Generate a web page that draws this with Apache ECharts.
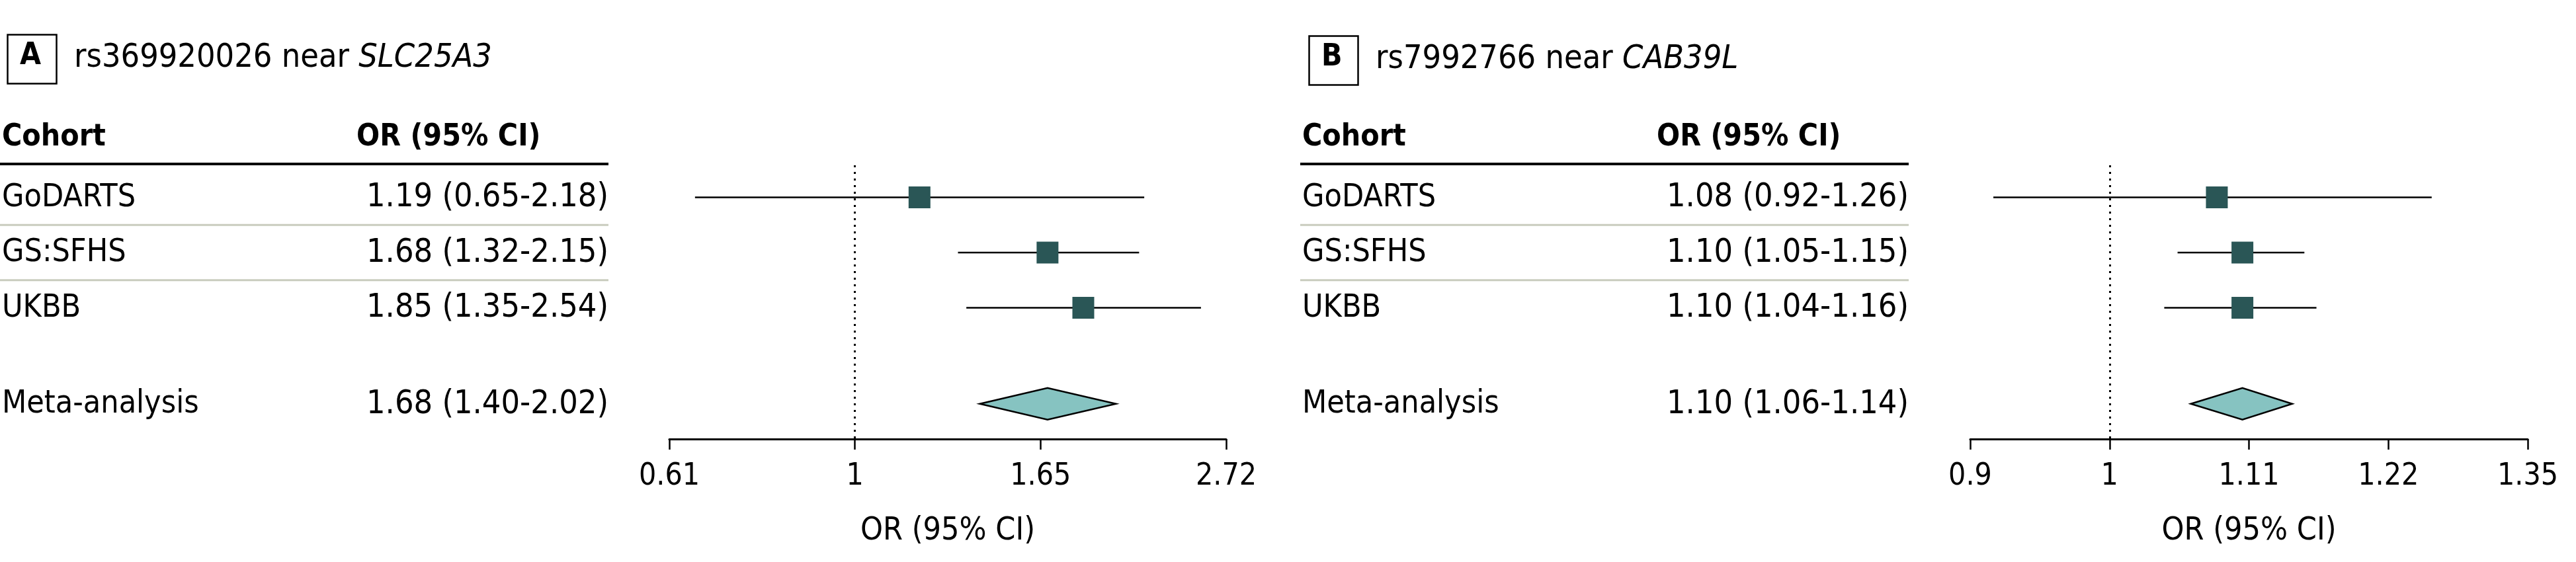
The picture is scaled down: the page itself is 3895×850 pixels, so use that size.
<!DOCTYPE html>
<html>
<head>
<meta charset="utf-8">
<script src="https://cdn.jsdelivr.net/npm/echarts@6/dist/echarts.min.js"></script>
<style>
  html, body { margin: 0; padding: 0; background: #fff; }
  #chart { width: 3895px; height: 850px; }
</style>
</head>
<body>
<div id="chart"></div>
<script>
// data
const cohorts = ["GoDARTS", "GS:SFHS", "UKBB", "Meta-analysis"];
const orA = [1.19, 1.68, 1.85, 1.68];
const lowA = [0.65, 1.32, 1.35, 1.40];
const highA = [2.18, 2.15, 2.54, 2.02];
const orB = [1.08, 1.10, 1.10, 1.10];
const lowB = [0.92, 1.05, 1.04, 1.06];
const highB = [1.26, 1.15, 1.16, 1.14];
const ticksA = ["0.61", "1", "1.65", "2.72"];
const ticksB = ["0.9", "1", "1.11", "1.22", "1.35"];

// layout
const FONT = '"DejaVu Sans Condensed", "Liberation Sans", sans-serif';
const rowPos = [0, 1, 2, 3.74];
const rowPx = 83.5;
const plotTop = 250, plotH = 414;
const yMin = -0.58, yMax = yMin + plotH / rowPx;
const squareSize = 33, diamondHalf = 24;

const chart = echarts.init(document.getElementById("chart"));

function makeRender(tableLeft, ors, lows, highs) {
  return function (params, api) {
    const i = api.value(4);
    const row = api.value(3);
    const c = api.coord([api.value(0), row]);
    const l = api.coord([api.value(1), row]);
    const h = api.coord([api.value(2), row]);
    const y = c[1];
    const children = [];
    const label = ors[i].toFixed(2) + " (" + lows[i].toFixed(2) + "-" + highs[i].toFixed(2) + ")";
    children.push({
      type: "text",
      style: { x: tableLeft, y: y + 1, text: cohorts[i], fill: "#000", font: "48px " + FONT, textAlign: "left", textVerticalAlign: "middle" }
    });
    children.push({
      type: "text",
      style: { x: tableLeft + 917, y: y + 1, text: label, fill: "#000", font: "50px " + FONT, textAlign: "right", textVerticalAlign: "middle" }
    });
    if (i < 2) {
      const sy = api.coord([0, row + 0.5])[1];
      children.push({
        type: "line",
        shape: { x1: tableLeft - 3, y1: sy, x2: tableLeft + 917, y2: sy },
        style: { stroke: "#c9ccbe", lineWidth: 3 }
      });
    }
    if (i === 3) {
      children.push({
        type: "polygon",
        shape: { points: [[l[0], y], [c[0], y - diamondHalf], [h[0], y], [c[0], y + diamondHalf]] },
        style: { fill: "#86c3c1", stroke: "#000", lineWidth: 2.5 }
      });
    } else {
      children.push({
        type: "line",
        shape: { x1: l[0], y1: y, x2: h[0], y2: y },
        style: { stroke: "#000", lineWidth: 2.5 }
      });
      children.push({
        type: "rect",
        shape: { x: c[0] - squareSize / 2, y: y - squareSize / 2, width: squareSize, height: squareSize },
        style: { fill: "#2a5656" }
      });
    }
    return { type: "group", children: children };
  };
}

function rows(ors, lows, highs) {
  return cohorts.map((c, i) => [Math.log(ors[i]), Math.log(lows[i]), Math.log(highs[i]), rowPos[i], i]);
}

function xAxisFor(gridIndex, min, max, step, ticks) {
  return {
    gridIndex: gridIndex,
    type: "value",
    min: min,
    max: max,
    interval: step,
    splitLine: { show: false },
    axisLine: { show: true, onZero: false, lineStyle: { color: "#000", width: 3 } },
    axisTick: { show: true, length: 16, lineStyle: { color: "#000", width: 2.5 } },
    axisLabel: {
      color: "#000", fontSize: 46, fontFamily: FONT, margin: 34,
      formatter: (v) => ticks[Math.round((v - min) / step)]
    },
    name: "OR (95% CI)",
    nameLocation: "middle",
    nameGap: 116,
    nameTextStyle: { color: "#000", fontSize: 48, fontFamily: FONT }
  };
}

function yAxisFor(gridIndex) {
  return { gridIndex: gridIndex, type: "value", inverse: true, min: yMin, max: yMax, show: false };
}

const refLine = {
  symbol: "none",
  silent: true,
  label: { show: false },
  lineStyle: { color: "#000", type: [3, 7], width: 3 },
  data: [{ xAxis: 0 }]
};

function panelHeader(left, boxLeft, letter, snp, gene, top) {
  return [
    { type: "rect", left: boxLeft, top: top, shape: { width: 74, height: 74 }, style: { fill: "none", stroke: "#000", lineWidth: 2.5 } },
    { type: "text", left: boxLeft + 21, top: top + 12, style: { text: letter, font: "bold 46px " + FONT, fill: "#000" } },
    {
      type: "text", left: boxLeft + 103, top: top + 13,
      style: {
        text: "{n|" + snp + " near }{i|" + gene + "}",
        fill: "#000",
        rich: {
          n: { fontSize: 50, fontFamily: FONT, fill: "#000" },
          i: { fontSize: 50, fontFamily: FONT, fontStyle: "italic", fill: "#000" }
        }
      }
    },
    { type: "text", left: left, top: 185, style: { text: "Cohort", font: "bold 46px " + FONT, fill: "#000" } },
    { type: "text", left: left + 536, top: 185, style: { text: "OR (95% CI)", font: "bold 46px " + FONT, fill: "#000" } },
    { type: "line", shape: { x1: left - 3, y1: 248, x2: left + 917, y2: 248 }, style: { stroke: "#000", lineWidth: 4 } }
  ];
}

chart.setOption({
  animation: false,
  backgroundColor: "#fff",
  grid: [
    { left: 1012, top: plotTop, width: 842, height: plotH },
    { left: 2979, top: plotTop, width: 843, height: plotH }
  ],
  xAxis: [
    xAxisFor(0, -0.5, 1, 0.5, ticksA),
    xAxisFor(1, -0.1, 0.3, 0.1, ticksB)
  ],
  yAxis: [yAxisFor(0), yAxisFor(1)],
  graphic: [].concat(
    panelHeader(3, 9, "A", "rs369920026", "SLC25A3", 50),
    panelHeader(1969, 1977, "B", "rs7992766", "CAB39L", 52)
  ),
  series: [
    {
      type: "custom", xAxisIndex: 0, yAxisIndex: 0,
      renderItem: makeRender(3, orA, lowA, highA),
      data: rows(orA, lowA, highA),
      markLine: refLine
    },
    {
      type: "custom", xAxisIndex: 1, yAxisIndex: 1,
      renderItem: makeRender(1969, orB, lowB, highB),
      data: rows(orB, lowB, highB),
      markLine: refLine
    }
  ]
});
</script>
</body>
</html>
